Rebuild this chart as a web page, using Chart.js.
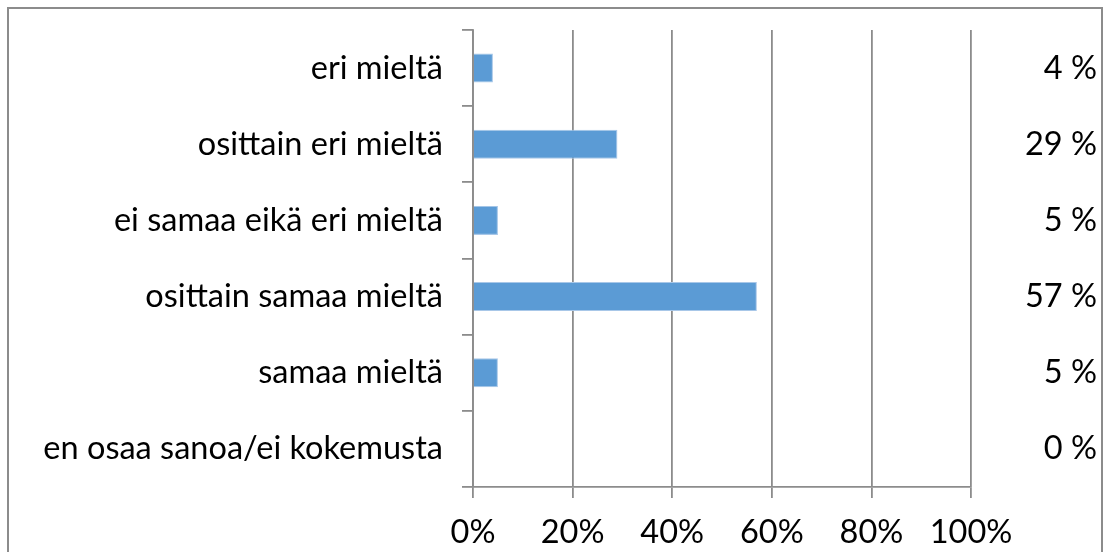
<!DOCTYPE html>
<html>
<head>
<meta charset="utf-8">
<script src="https://cdn.jsdelivr.net/npm/chart.js@4"></script>
<style>
  body{margin:0;background:#fff;}
  #frame{position:absolute;left:7px;top:7px;width:1092px;height:600px;border:2px solid #8c8c8c;}
  #wrap{position:absolute;left:0;top:0;width:1112px;height:552px;}
</style>
</head>
<body>
<div id="frame"></div>
<div id="wrap"><canvas id="chart" width="1112" height="552"></canvas></div>
<script>

/* =========================================
   DATA
========================================= */

const categories = [
  'eri mieltä',
  'osittain eri mieltä',
  'ei samaa eikä eri mieltä',
  'osittain samaa mieltä',
  'samaa mieltä',
  'en osaa sanoa/ei kokemusta'
];

const values = [4,29,5,57,5,0];

const pctLabels = ['4 %','29 %','5 %','57 %','5 %','0 %'];

const xTickLabels = ['0%','20%','40%','60%','80%','100%'];


/* =========================================
   CHART
========================================= */

const gridColor = '#8c8c8c';
const font = {family:'Lato', size:32.5};

// y axes: no extra half-label padding at top / bottom
function fixY(s,w){
  s.width = w;
  s.paddingTop = 0;
  s.paddingBottom = 0;
}

new Chart(document.getElementById('chart'),{

  type:'bar',

  data:{
    labels:categories,
    datasets:[{
      data:values,
      backgroundColor:'#5B9BD5',
      borderColor:'#A8C7E8',
      borderWidth:1,
      barPercentage:0.38,
      categoryPercentage:1,
      yAxisID:'y'
    }]
  },

  options:{

    indexAxis:'y',
    responsive:false,
    animation:false,

    layout:{padding:{left:0,right:15,top:30,bottom:0}},

    plugins:{
      legend:{display:false},
      tooltip:{enabled:false}
    },

    scales:{

      x:{
        min:0,
        max:100,
        ticks:{
          stepSize:20,
          color:'#000',
          font:font,
          padding:15,
          callback:(v,i)=>xTickLabels[i]
        },
        grid:{color:gridColor,lineWidth:1.8,tickLength:11},
        border:{color:gridColor,width:1.8},
        afterFit:(s)=>{s.height = 552-487;}
      },

      y:{
        position:'left',
        offset:true,
        ticks:{color:'#000',font:font,padding:19},
        grid:{offset:true,drawOnChartArea:false,color:gridColor,lineWidth:1.8,tickLength:11},
        border:{color:gridColor,width:1.8},
        afterFit:(s)=>fixY(s,473)
      },

      yRight:{
        type:'category',
        labels:pctLabels,
        position:'right',
        offset:true,
        ticks:{color:'#000',font:font,crossAlign:'far',padding:0},
        grid:{display:false},
        border:{display:false},
        afterFit:(s)=>fixY(s,1097-971)
      }

    }

  }

});

</script>
</body>
</html>
